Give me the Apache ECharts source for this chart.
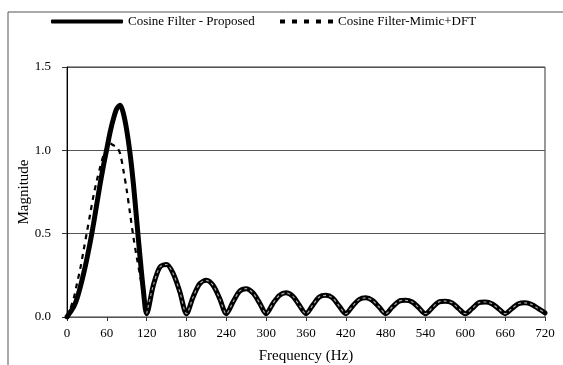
<!DOCTYPE html>
<html>
<head>
<meta charset="utf-8">
<script src="https://cdn.jsdelivr.net/npm/echarts@6/dist/echarts.min.js"></script>
<style>
  html, body { margin: 0; padding: 0; background: #fff; }
  #chart { width: 563px; height: 365px; }
</style>
</head>
<body>
<div id="chart"></div>
<script>
// frequency points (Hz)
const freq = [
  0, 5, 10, 15, 20, 25, 30, 35, 40, 45, 50, 55, 60, 65, 70, 75, 80, 85, 90, 95, 100, 105, 110, 115, 120,
  130, 140, 150, 160, 170, 180,
  190, 200, 210, 220, 230, 240,
  250, 260, 270, 280, 290, 300,
  310, 320, 330, 340, 350, 360,
  370, 380, 390, 400, 410, 420,
  430, 440, 450, 460, 470, 480,
  490, 500, 510, 520, 530, 540,
  550, 560, 570, 580, 590, 600,
  610, 620, 630, 640, 650, 660,
  670, 680, 690, 700, 710, 720
]
// Cosine Filter - Proposed
const proposed = [
  0.0, 0.03, 0.06, 0.11, 0.18, 0.26, 0.35, 0.45, 0.56, 0.68, 0.8, 0.91, 1.01, 1.11, 1.19, 1.25, 1.27, 1.22, 1.12, 0.98, 0.8, 0.58, 0.36, 0.16, 0.02,
  0.19, 0.3, 0.315, 0.26, 0.15, 0.02,
  0.12, 0.2, 0.22, 0.19, 0.11, 0.02,
  0.09, 0.155, 0.17, 0.145, 0.085, 0.02,
  0.08, 0.13, 0.145, 0.125, 0.07, 0.02,
  0.07, 0.12, 0.13, 0.115, 0.065, 0.02,
  0.065, 0.105, 0.115, 0.1, 0.06, 0.02,
  0.06, 0.095, 0.1, 0.09, 0.055, 0.02,
  0.055, 0.09, 0.095, 0.085, 0.05, 0.02,
  0.05, 0.085, 0.09, 0.08, 0.05, 0.02,
  0.05, 0.08, 0.085, 0.075, 0.05, 0.025
]
// Cosine Filter-Mimic+DFT
const mimic = [
  0.0, 0.05, 0.11, 0.2, 0.29, 0.4, 0.51, 0.62, 0.73, 0.82, 0.9, 0.97, 1.02, 1.04, 1.03, 1.02, 0.98, 0.88, 0.76, 0.62, 0.48, 0.36, 0.25, 0.13, 0.02,
  0.19, 0.3, 0.315, 0.26, 0.15, 0.02,
  0.12, 0.2, 0.22, 0.19, 0.11, 0.02,
  0.09, 0.155, 0.17, 0.145, 0.085, 0.02,
  0.08, 0.13, 0.145, 0.125, 0.07, 0.02,
  0.07, 0.12, 0.13, 0.115, 0.065, 0.02,
  0.065, 0.105, 0.115, 0.1, 0.06, 0.02,
  0.06, 0.095, 0.1, 0.09, 0.055, 0.02,
  0.055, 0.09, 0.095, 0.085, 0.05, 0.02,
  0.05, 0.085, 0.09, 0.08, 0.05, 0.02,
  0.05, 0.08, 0.085, 0.075, 0.05, 0.025
]
const seriesNames = ['Cosine Filter - Proposed', 'Cosine Filter-Mimic+DFT']

const font = 'Liberation Serif, Times New Roman, serif'
const chart = echarts.init(document.getElementById('chart'), null, { renderer: 'canvas' })

const proposedData = freq.map((f, i) => [f, proposed[i]])
const mimicData = freq.map((f, i) => [f, mimic[i]])
// main lobe drawn in black dashes, the part lying on top of the thick line shows lighter
const mimicMain = mimicData.filter(d => d[0] <= 120)
const mimicSide = mimicData.filter(d => d[0] >= 120)

const option = {
  backgroundColor: '#fff',
  animation: false,
  textStyle: { fontFamily: font },
  graphic: [
    // outer frame (top + left edges visible in the scan)
    { type: 'line', shape: { x1: 8, y1: 12, x2: 563, y2: 12 }, style: { stroke: '#555', lineWidth: 1 } },
    { type: 'line', shape: { x1: 8, y1: 12, x2: 8, y2: 365 }, style: { stroke: '#555', lineWidth: 1 } }
  ],
  legend: [
    {
      data: [{ name: seriesNames[0], itemStyle: { color: '#000' } }],
      left: 46, top: 10,
      itemWidth: 72, itemHeight: 4, itemGap: 0,
      textStyle: { fontFamily: font, fontSize: 13, color: '#000' },
      icon: 'roundRect'
    },
    {
      data: [{ name: seriesNames[1], itemStyle: { color: '#000' } }],
      left: 275, top: 10,
      itemWidth: 53, itemHeight: 4, itemGap: 0,
      textStyle: { fontFamily: font, fontSize: 13, color: '#000' },
      icon: 'path://M0,0h5v4h-5z M12,0h5v4h-5z M24,0h5v4h-5z M36,0h5v4h-5z M48,0h5v4h-5z'
    }
  ],
  grid: {
    left: 67, right: 18, top: 67, bottom: 48,
    outerBoundsMode: 'none',
    show: true, borderColor: '#333', borderWidth: 1
  },
  xAxis: {
    type: 'value',
    min: 0, max: 720, interval: 60,
    name: 'Frequency (Hz)',
    nameLocation: 'middle',
    nameGap: 32,
    nameMoveOverlap: false,
    nameTextStyle: { fontFamily: font, fontSize: 15, color: '#000' },
    axisLine: { lineStyle: { color: '#555', width: 1 } },
    axisTick: { show: true, inside: false, length: 4, lineStyle: { color: '#333' } },
    axisLabel: { fontFamily: font, fontSize: 13, color: '#000', margin: 10 },
    splitLine: { show: false }
  },
  yAxis: {
    type: 'value',
    min: 0, max: 1.5, interval: 0.5,
    name: 'Magnitude',
    nameLocation: 'middle',
    nameGap: 35,
    nameMoveOverlap: false,
    nameTextStyle: { fontFamily: font, fontSize: 15, color: '#000' },
    axisLine: { show: true, lineStyle: { color: '#000', width: 1 } },
    axisTick: { show: true, inside: false, length: 5, lineStyle: { color: '#333' } },
    axisLabel: { fontFamily: font, fontSize: 13, color: '#000', margin: 16, formatter: v => v.toFixed(1) },
    splitLine: { show: true, lineStyle: { color: '#555', width: 1 } }
  },
  series: [
    {
      name: seriesNames[0],
      type: 'line',
      data: proposedData,
      smooth: 0.3,
      showSymbol: false,
      symbol: 'none',
      z: 2,
      lineStyle: { color: '#000', width: 5, cap: 'round', join: 'round' },
      itemStyle: { color: '#000' }
    },
    {
      name: seriesNames[1],
      type: 'line',
      data: mimicMain,
      smooth: 0.3,
      showSymbol: false,
      symbol: 'none',
      z: 3,
      lineStyle: { color: '#000', width: 2.2, type: [5, 5] },
      itemStyle: { color: '#000' }
    },
    {
      name: seriesNames[1],
      type: 'line',
      data: mimicSide,
      smooth: 0.3,
      showSymbol: false,
      symbol: 'none',
      z: 3,
      lineStyle: { color: '#a8a8a8', width: 1.2, type: [3, 3] },
      itemStyle: { color: '#a8a8a8' }
    }
  ]
}
chart.setOption(option)
</script>
</body>
</html>
